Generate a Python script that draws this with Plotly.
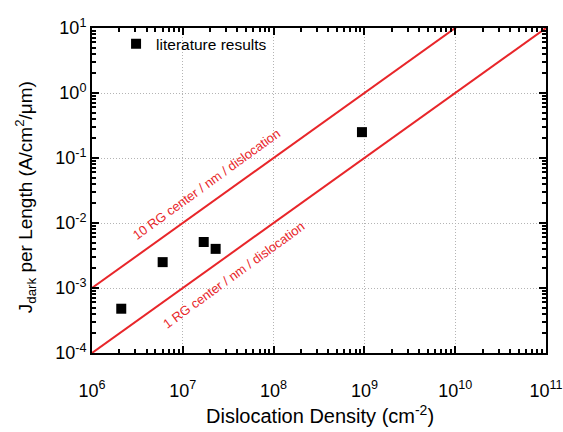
import numpy as np
import plotly.graph_objects as go

# Data
lit_density = [2.1e6, 6.0e6, 1.7e7, 2.3e7, 9.4e8]
lit_jdark = [4.8e-4, 2.5e-3, 5.1e-3, 4.0e-3, 0.25]

line_density = [1e6, 1e11]
rg10_coeff = 1e-9   # 10 RG center / nm / dislocation
rg1_coeff = 1e-10   # 1 RG center / nm / dislocation

x_tickvals = [1e6, 1e7, 1e8, 1e9, 1e10, 1e11]
x_ticktext = ["10<sup>6</sup>", "10<sup>7</sup>", "10<sup>8</sup>", "10<sup>9</sup>", "10<sup>10</sup>", "10<sup>11</sup>"]
y_tickvals = [1e-4, 1e-3, 1e-2, 1e-1, 1e0, 1e1]
y_ticktext = ["10<sup>-4</sup>", "10<sup>-3</sup>", "10<sup>-2</sup>", "10<sup>-1</sup>", "10<sup>0</sup>", "10<sup>1</sup>"]

x_minor = [m * d for d in x_tickvals[:-1] for m in range(2, 10)]
y_minor = [m * d for d in y_tickvals[:-1] for m in range(2, 10)]

RED = "#e8262a"
FONT = "Liberation Sans, Arial, sans-serif"

fig = go.Figure()
fig.add_trace(go.Scatter(x=line_density, y=[rg10_coeff * v for v in line_density],
                         mode="lines", line=dict(color=RED, width=2), showlegend=False))
fig.add_trace(go.Scatter(x=line_density, y=[rg1_coeff * v for v in line_density],
                         mode="lines", line=dict(color=RED, width=2), showlegend=False))
fig.add_trace(go.Scatter(x=lit_density, y=lit_jdark, mode="markers", name="literature results",
                         marker=dict(symbol="square", size=10, color="black")))

ang = -36
fig.add_annotation(x=7.255, y=-1.40, xref="x", yref="y", text="10 RG center / nm / dislocation",
                   textangle=ang, showarrow=False, font=dict(color=RED, size=13, family=FONT))
fig.add_annotation(x=7.553, y=-2.80, xref="x", yref="y", text="1 RG center / nm / dislocation",
                   textangle=ang, showarrow=False, font=dict(color=RED, size=13, family=FONT))

# axis titles as annotations for exact placement
fig.add_annotation(x=0.502, y=-0.19, xref="paper", yref="paper", xanchor="center", yanchor="middle",
                   text="Dislocation Density (cm<sup>-2</sup>)", showarrow=False,
                   font=dict(size=20, family=FONT, color="black"))
fig.add_annotation(x=-0.147, y=0.48, xref="paper", yref="paper", xanchor="center", yanchor="middle",
                   text="J<sub>dark</sub> per Length (A/cm<sup>2</sup>/μm)", showarrow=False, textangle=-90,
                   font=dict(size=19, family=FONT, color="black"))

axis_common = dict(
    type="log", showline=True, linecolor="black", linewidth=2, mirror="allticks",
    ticks="inside", ticklen=7, tickwidth=1.5, tickcolor="black",
    showgrid=True, gridcolor="#b4b4b4", gridwidth=1, griddash="1px,2px",
    tickfont=dict(size=18, family=FONT, color="black"),
    zeroline=False, automargin=False,
)

fig.update_xaxes(range=[6, 11], tickvals=x_tickvals, ticktext=x_ticktext, ticklabelstandoff=20,
                 minor=dict(ticks="inside", ticklen=4, tickwidth=1.5, tickcolor="black", tickvals=x_minor, showgrid=False),
                 **axis_common)
fig.update_yaxes(range=[-4, 1], tickvals=y_tickvals, ticktext=y_ticktext,
                 minor=dict(ticks="inside", ticklen=4, tickwidth=1.5, tickcolor="black", tickvals=y_minor, showgrid=False),
                 **axis_common)

fig.update_layout(
    width=563, height=432,
    margin=dict(l=92, r=17, t=28, b=79),
    paper_bgcolor="white", plot_bgcolor="white",
    font=dict(family=FONT, color="black"),
    legend=dict(x=0.053, y=0.95, xanchor="left", yanchor="middle", bgcolor="rgba(0,0,0,0)",
                font=dict(size=15.5, family=FONT, color="black")),
)

fig.write_html("out.html", config={"displayModeBar": False},
               post_script="document.body.style.margin='0';document.body.style.padding='0';")
